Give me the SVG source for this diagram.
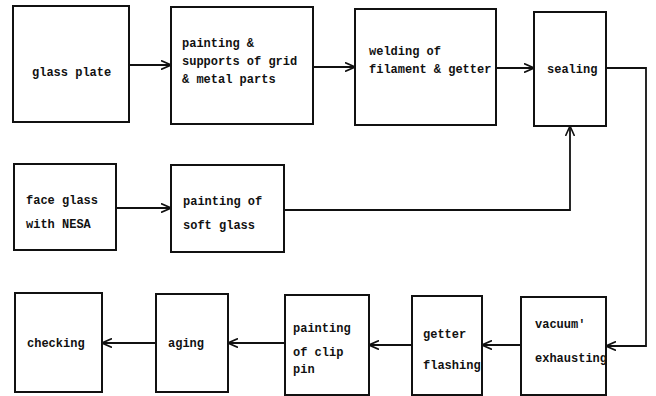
<svg xmlns="http://www.w3.org/2000/svg" width="656" height="396" viewBox="0 0 656 396">
<defs>
<marker id="ah" viewBox="0 0 10 10" refX="10" refY="5" markerWidth="10" markerHeight="10" markerUnits="userSpaceOnUse" orient="auto">
<path d="M0,0.5 L10,5 L0,9.5" fill="none" stroke="#111" stroke-width="1.6"/>
</marker>
<style>
.box{fill:#fff;stroke:#111;stroke-width:2}
.t{font-family:"Liberation Mono","DejaVu Sans Mono",monospace;font-size:12px;font-weight:bold;fill:#111}
.c{fill:none;stroke:#111;stroke-width:1.8}
</style>
</defs>
<rect width="656" height="396" fill="#fff"/>
<g id="connectors">
<path class="c" d="M129,65 H171" marker-end="url(#ah)"/>
<path class="c" d="M313,67 H355" marker-end="url(#ah)"/>
<path class="c" d="M496,68 H534" marker-end="url(#ah)"/>
<path class="c" d="M116,208 H171" marker-end="url(#ah)"/>
<path class="c" d="M284,210 H570 V126" marker-end="url(#ah)"/>
<path class="c" d="M606,68 H646 V346 H606" marker-end="url(#ah)"/>
<path class="c" d="M521,345 H482" marker-end="url(#ah)"/>
<path class="c" d="M412,345 H369" marker-end="url(#ah)"/>
<path class="c" d="M285,343 H228" marker-end="url(#ah)"/>
<path class="c" d="M156,343 H102" marker-end="url(#ah)"/>
</g>
<g id="glass-plate"><rect class="box" x="13" y="6" width="116" height="116"/><text class="t" x="32" y="76">glass plate</text></g>
<g id="painting-supports"><rect class="box" x="171" y="7" width="142" height="117"/><text class="t" x="182" y="47">painting &amp;</text><text class="t" x="182" y="65">supports of grid</text><text class="t" x="182" y="83">&amp; metal parts</text></g>
<g id="welding"><rect class="box" x="355" y="9" width="141" height="116"/><text class="t" x="369" y="55">welding of</text><text class="t" x="369" y="73">filament &amp; getter</text></g>
<g id="sealing"><rect class="box" x="534" y="12" width="72" height="114"/><text class="t" x="547" y="73">sealing</text></g>
<g id="face-glass"><rect class="box" x="14" y="164" width="102" height="86"/><text class="t" x="26" y="204">face glass</text><text class="t" x="26" y="228">with NESA</text></g>
<g id="painting-soft"><rect class="box" x="171" y="165" width="113" height="87"/><text class="t" x="183" y="205">painting of</text><text class="t" x="183" y="229">soft glass</text></g>
<g id="vacuum"><rect class="box" x="521" y="297" width="85" height="98"/><text class="t" x="535" y="328">vacuum′</text><text class="t" x="535" y="362">exhausting</text></g>
<g id="getter-flashing"><rect class="box" x="412" y="296" width="70" height="99"/><text class="t" x="423" y="338">getter</text><text class="t" x="423" y="369">flashing</text></g>
<g id="painting-clip"><rect class="box" x="285" y="295" width="84" height="100"/><text class="t" x="293" y="332">painting</text><text class="t" x="293" y="356">of clip</text><text class="t" x="293" y="373">pin</text></g>
<g id="aging"><rect class="box" x="156" y="294" width="72" height="98"/><text class="t" x="168" y="347">aging</text></g>
<g id="checking"><rect class="box" x="15" y="293" width="87" height="99"/><text class="t" x="27" y="347">checking</text></g>
</svg>
